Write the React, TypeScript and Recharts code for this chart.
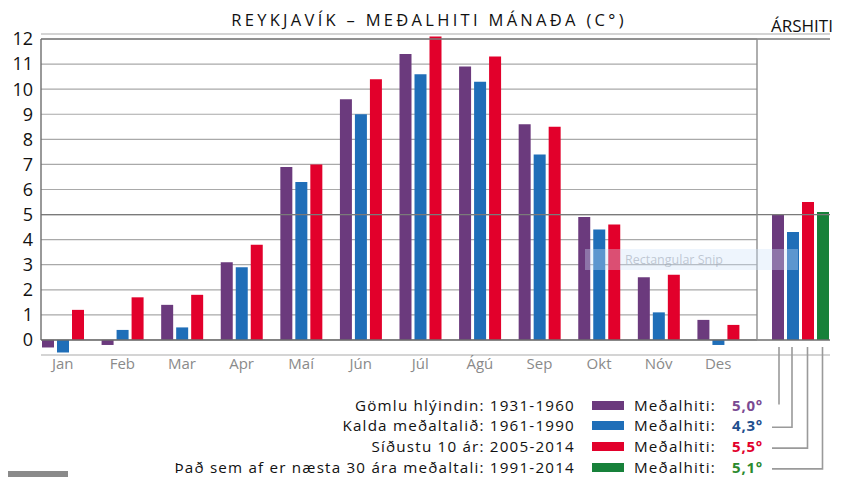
import { Bar, BarChart, CartesianGrid, ReferenceLine, XAxis, YAxis } from 'recharts'

const months = ['Jan', 'Feb', 'Mar', 'Apr', 'Maí', 'Jún', 'Júl', 'Ágú', 'Sep', 'Okt', 'Nóv', 'Des']
const warm1931 = [-0.3, -0.2, 1.4, 3.1, 6.9, 9.6, 11.4, 10.9, 8.6, 4.9, 2.5, 0.8]
const cold1961 = [-0.5, 0.4, 0.5, 2.9, 6.3, 9.0, 10.6, 10.3, 7.4, 4.4, 1.1, -0.2]
const recent2005 = [1.2, 1.7, 1.8, 3.8, 7.0, 10.4, 12.1, 11.3, 8.5, 4.6, 2.6, 0.6]

const annualLabel = 'Árshiti'
const annualWarm = 5.0
const annualCold = 4.3
const annualRecent = 5.5
const annualNormal = 5.1

const yTicks = [0, 1, 2, 3, 4, 5, 6, 7, 8, 9, 10, 11, 12]

const legendLabels = [
	'Gömlu hlýindin: 1931-1960',
	'Kalda meðaltalið: 1961-1990',
	'Síðustu 10 ár: 2005-2014',
	'Það sem af er næsta 30 ára meðaltali: 1991-2014'
]
const legendValues = ['5,0°', '4,3°', '5,5°', '5,1°']

const PURPLE = '#6b3a7d'
const BLUE = '#1f6eb8'
const RED = '#e2002b'
const GREEN = '#17813a'
const valueColors = ['#7a4a92', '#1f4f8e', '#e2002b', '#2b8a2e']
const swatchColors = [PURPLE, BLUE, RED, GREEN]

const FONT = '"Open Sans", "Noto Sans", sans-serif'

const monthlyData = months.map((name, i) => ({
	name,
	warm: warm1931[i],
	cold: cold1961[i],
	recent: recent2005[i]
}))

const annualData = [
	{ name: annualLabel, warm: annualWarm, cold: annualCold, recent: annualRecent, normal: annualNormal }
]

const DOMAIN: [number, number] = [-0.6, 12.2]
const CHART_H = 400
const MARGIN = { top: 34, right: 0, left: 0, bottom: 15 }

export default function App() {
	const rowY = [404.5, 425.3, 446.1, 466.9]

	return (
		<div
			style={{
				position: 'absolute',
				left: 0,
				top: 0,
				width: 841,
				height: 477,
				background: '#fff',
				fontFamily: FONT,
				overflow: 'hidden'
			}}
		>
			<div
				style={{
					position: 'absolute',
					left: 0,
					width: 858,
					top: 8,
					textAlign: 'center',
					fontSize: 16.5,
					letterSpacing: 3.3,
					color: '#111',
					whiteSpace: 'nowrap'
				}}
			>
				REYKJAVÍK – MEÐALHITI MÁNAÐA (C°)
			</div>
			<div
				style={{
					position: 'absolute',
					left: 771,
					top: 14,
					fontSize: 17,
					color: '#111',
					whiteSpace: 'nowrap'
				}}
			>
				ÁRSHITI
			</div>

			<div style={{ position: 'absolute', left: 0, top: 0 }}>
				<BarChart
					width={757}
					height={CHART_H}
					data={monthlyData}
					margin={MARGIN}
					barSize={12}
					barGap={3}
				>
					<CartesianGrid
						vertical={false}
						stroke="#a9a9a9"
						strokeWidth={1.2}
					/>
					<XAxis
						dataKey="name"
						axisLine={false}
						tickLine={false}
						tickSize={0}
						tickMargin={3}
						height={30}
						padding={{ left: -8, right: 9 }}
						interval={0}
						tick={{ fontSize: 15, fill: '#8a8a8a', fontFamily: FONT }}
					/>
					<YAxis
						type="number"
						domain={DOMAIN}
						ticks={yTicks}
						width={41}
						axisLine={false}
						tickLine={false}
						tickSize={0}
						tickMargin={8}
						interval={0}
						tick={{ fontSize: 18, fill: '#111', fontFamily: FONT }}
					/>
					<ReferenceLine y={0} stroke="#6e6e6e" strokeWidth={1.4} />
					<ReferenceLine y={5} stroke="#7a7a7a" strokeWidth={1.3} />
					<ReferenceLine y={12} stroke="#7a7a7a" strokeWidth={1.3} />
					<Bar dataKey="warm" fill={PURPLE} isAnimationActive={false} />
					<Bar dataKey="cold" fill={BLUE} isAnimationActive={false} />
					<Bar dataKey="recent" fill={RED} isAnimationActive={false} />
				</BarChart>
			</div>

			<div style={{ position: 'absolute', left: 757, top: 0 }}>
				<BarChart
					width={84}
					height={CHART_H}
					data={annualData}
					margin={{ ...MARGIN, right: 11 }}
					barSize={12}
					barGap={3}
				>
					<CartesianGrid
						vertical={false}
						stroke="#a9a9a9"
						strokeWidth={1.2}
					/>
					<XAxis
						dataKey="name"
						axisLine={false}
						tickLine={false}
						tick={false}
						height={30}
						padding={{ left: 14, right: 0 }}
					/>
					<YAxis
						type="number"
						domain={DOMAIN}
						ticks={yTicks}
						width={0}
						axisLine={false}
						tickLine={false}
						tick={false}
					/>
					<ReferenceLine y={0} stroke="#6e6e6e" strokeWidth={1.4} />
					<ReferenceLine y={5} stroke="#7a7a7a" strokeWidth={1.3} />
					<ReferenceLine y={12} stroke="#7a7a7a" strokeWidth={1.3} />
					<Bar dataKey="warm" fill={PURPLE} isAnimationActive={false} />
					<Bar dataKey="cold" fill={BLUE} isAnimationActive={false} />
					<Bar dataKey="recent" fill={RED} isAnimationActive={false} />
					<Bar dataKey="normal" fill={GREEN} isAnimationActive={false} />
				</BarChart>
			</div>

			{/* axis line, separator and connector lines */}
			<svg
				width={841}
				height={477}
				style={{ position: 'absolute', left: 0, top: 0, pointerEvents: 'none' }}
			>
				<line x1={41} y1={39} x2={41} y2={340} stroke="#6e6e6e" strokeWidth={1.4} />
				<line x1={757} y1={39} x2={757} y2={340} stroke="#8c8c8c" strokeWidth={1.4} />
				<g stroke="#9a9a9a" strokeWidth={1.6} fill="none">
					<polyline points={`779,347 779,${rowY[0]}`} />
					<polyline points={`792,347 792,${rowY[1] + 2} 772,${rowY[1] + 2}`} />
					<polyline points={`807.5,347 807.5,${rowY[2] + 2} 772,${rowY[2] + 2}`} />
					<polyline points={`822.5,347 822.5,${rowY[3] + 2} 772,${rowY[3] + 2}`} />
				</g>
				<rect x={8} y={471} width={60} height={6} fill="#8a8a8a" />
			</svg>

			{/* screenshot watermark */}
			<div
				style={{
					position: 'absolute',
					left: 585,
					top: 249,
					width: 213,
					height: 21,
					background: 'rgba(205,225,248,0.35)',
					color: 'rgba(150,160,175,0.55)',
					fontSize: 12.5,
					lineHeight: '21px',
					paddingLeft: 40,
					boxSizing: 'border-box',
					whiteSpace: 'nowrap'
				}}
			>
				Rectangular Snip
			</div>

			{legendLabels.map((label, i) => (
				<div key={label}>
					<div
						style={{
							position: 'absolute',
							right: 841 - 575,
							top: rowY[i] - 10,
							fontSize: 15.2,
							letterSpacing: 1.2,
							lineHeight: '20px',
							color: '#111',
							whiteSpace: 'nowrap'
						}}
					>
						{label}
					</div>
					<div
						style={{
							position: 'absolute',
							left: 592,
							top: rowY[i] - 4,
							width: 32,
							height: 9,
							background: swatchColors[i]
						}}
					/>
					<div
						style={{
							position: 'absolute',
							left: 634,
							top: rowY[i] - 10,
							fontSize: 15.2,
							letterSpacing: 1.2,
							lineHeight: '20px',
							color: '#111',
							whiteSpace: 'nowrap'
						}}
					>
						Meðalhiti:
					</div>
					<div
						style={{
							position: 'absolute',
							left: 732,
							top: rowY[i] - 10,
							fontSize: 15,
							letterSpacing: 0.8,
							lineHeight: '20px',
							fontWeight: 700,
							color: valueColors[i],
							whiteSpace: 'nowrap'
						}}
					>
						{legendValues[i]}
					</div>
				</div>
			))}
		</div>
	)
}
